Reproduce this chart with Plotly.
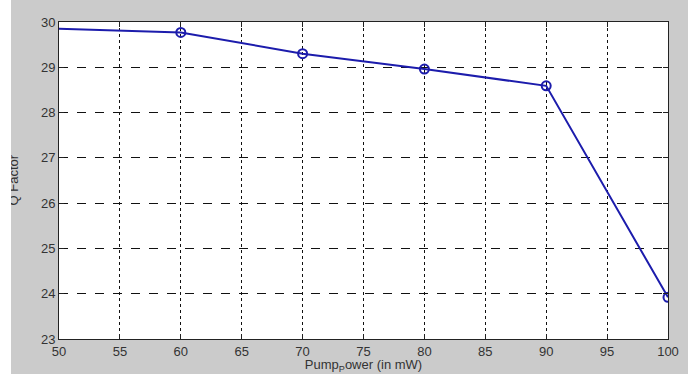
import plotly.graph_objects as go

pump_power = [40, 60, 70, 80, 90, 100]
q_factor = [29.93, 29.77, 29.30, 28.96, 28.59, 23.92]

x_ticks = [50, 55, 60, 65, 70, 75, 80, 85, 90, 95, 100]
y_ticks = [23, 24, 25, 26, 27, 28, 29, 30]

line_color = "#1c1cac"
font = dict(family="Liberation Sans, Arial, sans-serif", size=13, color="#333333")

fig = go.Figure()
fig.add_trace(go.Scatter(
    x=pump_power, y=q_factor, mode="lines+markers",
    line=dict(color=line_color, width=2),
    marker=dict(symbol="circle-open", size=9, color=line_color, line=dict(width=2)),
    showlegend=False,
))

axis_common = dict(
    showline=True, linecolor="#222222", linewidth=1, mirror="ticks",
    ticks="inside", ticklen=5, tickcolor="#222222",
    gridcolor="#111111", gridwidth=1, zeroline=False, tickfont=font,
    automargin=False,
)
fig.update_xaxes(range=[50, 100], tickvals=x_ticks, griddash="dot",
                 title=dict(text="Pump<sub>P</sub>ower (in mW)", font=font, standoff=1),
                 **axis_common)
fig.update_yaxes(range=[23, 30], tickvals=y_ticks, griddash="dash", **axis_common)

# y-axis title, partly cut by the left edge as in the reference
fig.add_annotation(text="Q Factor", textangle=-90, xref="paper", yref="paper",
                   x=(2 - 48) / 609, y=0.5, xanchor="center", yanchor="middle",
                   showarrow=False, font=font)

fig.update_layout(
    width=677, height=374,
    margin=dict(l=48, r=20, t=22, b=35),
    paper_bgcolor="#cbcbcb", plot_bgcolor="white",
    font=font,
)
fig.write_html(
    "out.html",
    post_script=(
        "document.documentElement.style.background='white';"
        "document.body.style.margin='0';document.body.style.background='white';"
        "var gd=document.getElementById('{plot_id}');gd.style.marginLeft='11px';"
    ),
)
